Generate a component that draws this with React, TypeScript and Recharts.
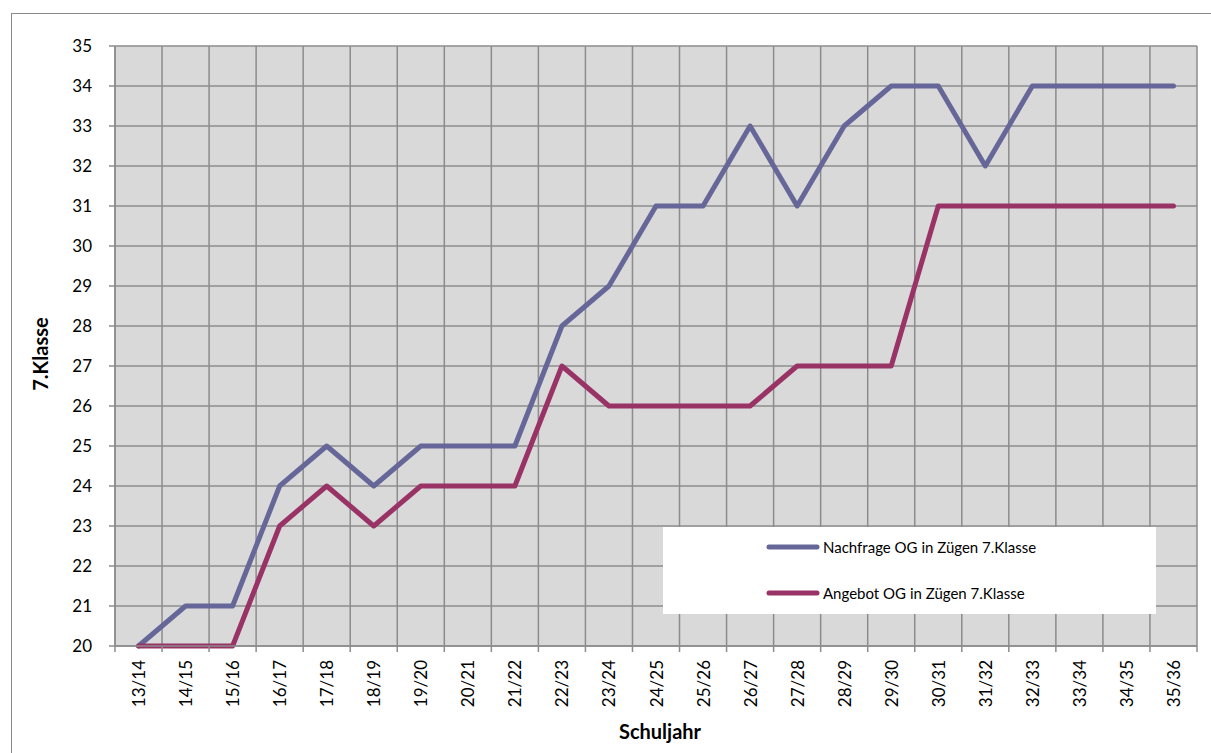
import { LineChart, Line, XAxis, YAxis, CartesianGrid, Legend } from 'recharts';

const categories = [
  '13/14', '14/15', '15/16', '16/17', '17/18', '18/19', '19/20', '20/21',
  '21/22', '22/23', '23/24', '24/25', '25/26', '26/27', '27/28', '28/29',
  '29/30', '30/31', '31/32', '32/33', '33/34', '34/35', '35/36',
];

const nachfrage = [20, 21, 21, 24, 25, 24, 25, 25, 25, 28, 29, 31, 31, 33, 31, 33, 34, 34, 32, 34, 34, 34, 34];
const angebot = [20, 20, 20, 23, 24, 23, 24, 24, 24, 27, 26, 26, 26, 26, 27, 27, 27, 31, 31, 31, 31, 31, 31];

const yTicks = [20, 21, 22, 23, 24, 25, 26, 27, 28, 29, 30, 31, 32, 33, 34, 35];

const seriesNames = ['Nachfrage OG in Zügen 7.Klasse', 'Angebot OG in Zügen 7.Klasse'];

const data = categories.map((jahr, i) => ({
  jahr,
  nachfrage: nachfrage[i],
  angebot: angebot[i],
}));

const FONT = "Lato, 'Liberation Sans', sans-serif";
const GRID = '#8c8c8c';
const BLUE = '#666699';
const MAROON = '#993366';

function XTick(props: any) {
  const { x, y, payload, index, width } = props;
  const step = (width || 1082) / categories.length;
  const left = x - step / 2;
  const right = x + step / 2;
  return (
    <g>
      <line x1={left} y1={y - 14} x2={left} y2={y - 8} stroke={GRID} strokeWidth={1.5} />
      {index === categories.length - 1 && (
        <line x1={right} y1={y - 14} x2={right} y2={y - 8} stroke={GRID} strokeWidth={1.5} />
      )}
      <text
        x={x}
        y={y}
        transform={`rotate(-90 ${x} ${y})`}
        textAnchor="end"
        dominantBaseline="central"
        fill="#000"
        fontSize={17}
        fontFamily={FONT}
      >
        {payload.value}
      </text>
    </g>
  );
}

function YTitle(props: any) {
  const { viewBox } = props;
  const cx = viewBox.x + 40;
  const cy = viewBox.y + viewBox.height / 2 + 8;
  return (
    <text
      x={cx}
      y={cy}
      transform={`rotate(-90 ${cx} ${cy})`}
      textAnchor="middle"
      dominantBaseline="central"
      fontSize={20}
      fontWeight={700}
      fontFamily={FONT}
      fill="#000"
    >
      7.Klasse
    </text>
  );
}

function XTitle(props: any) {
  const { viewBox } = props;
  const cx = viewBox.x + viewBox.width / 2 + 4;
  return (
    <text
      x={cx}
      y={731}
      textAnchor="middle"
      dominantBaseline="central"
      fontSize={20}
      fontWeight={700}
      fontFamily={FONT}
      fill="#000"
    >
      Schuljahr
    </text>
  );
}

function LegendBox() {
  const items = [
    { name: seriesNames[0], color: BLUE, top: 20 },
    { name: seriesNames[1], color: MAROON, top: 66 },
  ];
  return (
    <div style={{ position: 'relative', width: 493, height: 87, background: '#fff' }}>
      {items.map((it) => (
        <div
          key={it.name}
          style={{ position: 'absolute', left: 103, top: it.top - 10, height: 20, display: 'flex', alignItems: 'center' }}
        >
          <svg width={54} height={20}>
            <line x1={3} y1={10} x2={51} y2={10} stroke={it.color} strokeWidth={5} strokeLinecap="round" />
          </svg>
          <span style={{ fontFamily: FONT, fontSize: 15, color: '#000', marginLeft: 3, whiteSpace: 'nowrap' }}>
            {it.name}
          </span>
        </div>
      ))}
    </div>
  );
}

export default function App() {
  return (
    <div style={{ position: 'absolute', left: 0, top: 0, width: 1211, height: 753, overflow: 'hidden', background: '#fff' }}>
      <div
        style={{
          position: 'absolute',
          left: 11,
          top: 13,
          width: 1400,
          height: 900,
          border: '1px solid #8a8a8a',
        }}
      />
      <div style={{ position: 'absolute', left: 0, top: 0 }}>
        <LineChart width={1211} height={753} data={data} margin={{ top: 46, right: 14, bottom: 0, left: 0 }}>
          <CartesianGrid
            fill="#d9d9d9"
            stroke={GRID}
            strokeWidth={1.5}
            horizontalValues={yTicks}
            verticalCoordinatesGenerator={({ offset }: any) =>
              Array.from({ length: categories.length + 1 }, (_, i) => offset.left + (i * offset.width) / categories.length)
            }
          />
          <XAxis
            dataKey="jahr"
            scale="band"
            height={107}
            interval={0}
            tickLine={false}
            tickSize={6}
            tickMargin={8}
            axisLine={{ stroke: GRID, strokeWidth: 1.5 }}
            tick={<XTick />}
            label={<XTitle />}
          />
          <YAxis
            width={115}
            domain={[20, 35]}
            ticks={yTicks}
            interval={0}
            tickSize={6}
            tickMargin={17}
            tickLine={{ stroke: GRID, strokeWidth: 1.5 }}
            axisLine={{ stroke: GRID, strokeWidth: 1.5 }}
            tick={{ fill: '#000', fontSize: 17, fontFamily: FONT }}
            label={<YTitle />}
          />
          <Legend
            layout="horizontal"
            verticalAlign="middle"
            align="center"
            content={<LegendBox />}
            wrapperStyle={{ left: 663, top: 527, width: 493, height: 87 }}
          />
          <Line
            type="linear"
            dataKey="nachfrage"
            name={seriesNames[0]}
            stroke={BLUE}
            strokeWidth={5}
            strokeLinecap="round"
            strokeLinejoin="round"
            dot={false}
            activeDot={false}
            isAnimationActive={false}
          />
          <Line
            type="linear"
            dataKey="angebot"
            name={seriesNames[1]}
            stroke={MAROON}
            strokeWidth={5}
            strokeLinecap="round"
            strokeLinejoin="round"
            dot={false}
            activeDot={false}
            isAnimationActive={false}
          />
        </LineChart>
      </div>
    </div>
  );
}
